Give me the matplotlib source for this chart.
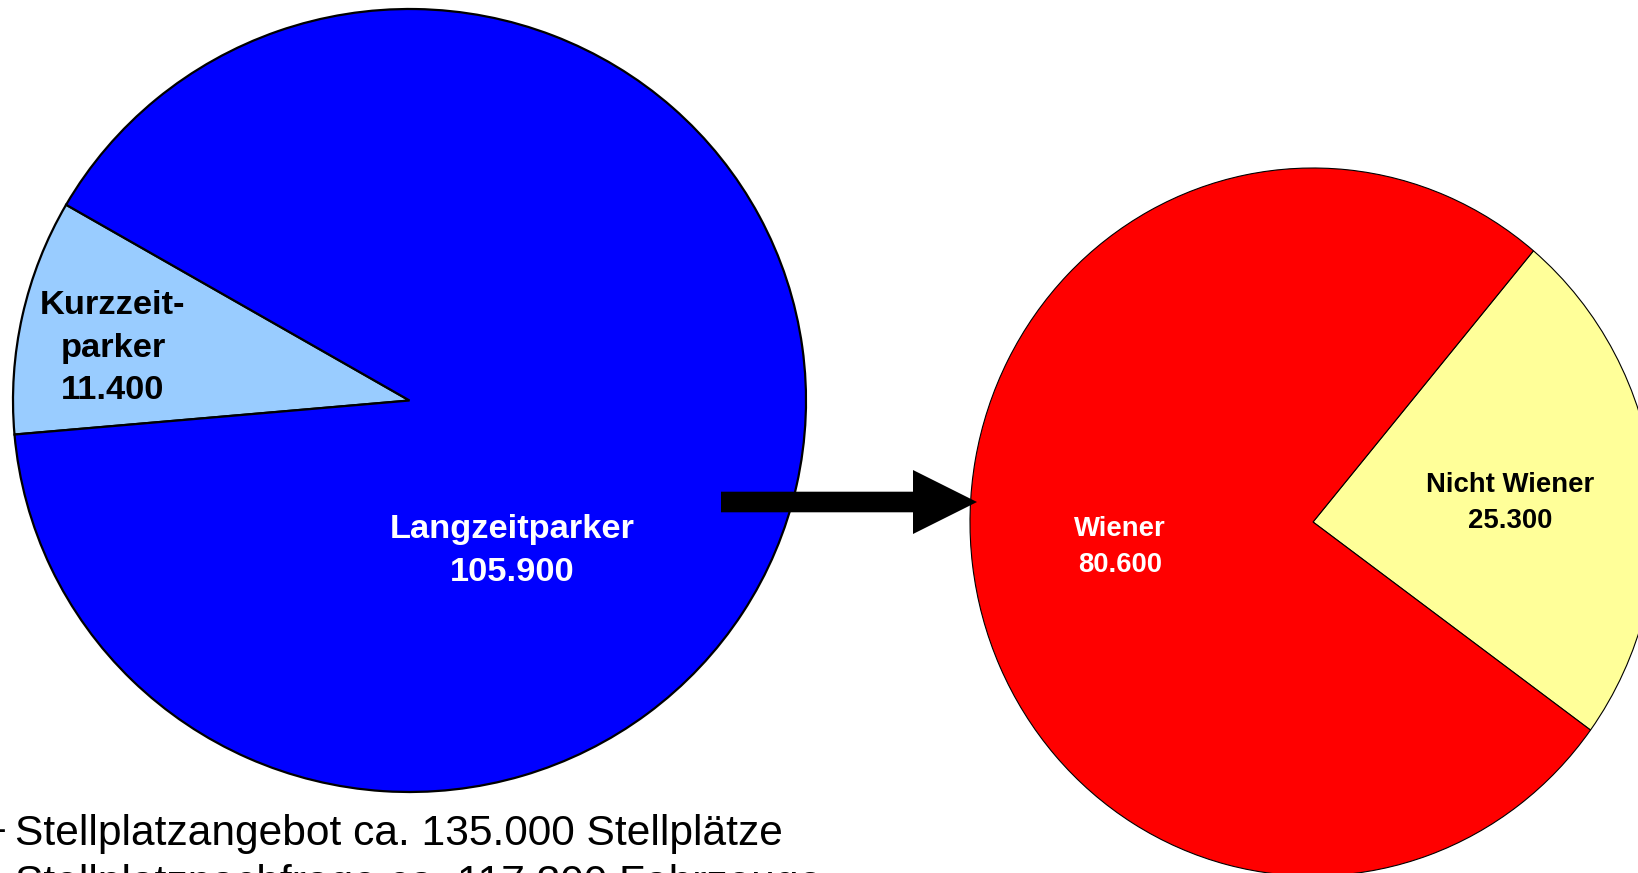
import matplotlib
matplotlib.use("Agg")
import matplotlib.pyplot as plt
from matplotlib.patches import FancyArrow

plt.rcParams['font.family'] = ['Liberation Sans', 'DejaVu Sans']

# ---- data ----
left_labels = ["Kurzzeit-\nparker", "Langzeitparker"]
left_values = [11400, 105900]
left_colors = ["#99CCFF", "#0000FF"]
left_text_colors = ["black", "white"]

right_labels = ["Nicht Wiener", "Wiener"]
right_values = [25300, 80600]
right_colors = ["#FFFF99", "#FF0000"]
right_text_colors = ["black", "white"]

notes = ["Stellplatzangebot ca. 135.000 Stellplätze",
         "Stellplatznachfrage ca. 117.300 Fahrzeuge"]

W, H = 1638, 873
fig = plt.figure(figsize=(W / 100, H / 100), dpi=100)
fig.patch.set_facecolor("white")


def fmt(v):
    return f"{v:,}".replace(",", ".")


def pie_axes(x0, y0, x1, y1):
    # pixel bbox (top-left origin) -> figure fraction
    return fig.add_axes([x0 / W, (H - y1) / H, (x1 - x0) / W, (y1 - y0) / H])


# left pie
axL = pie_axes(13, 9, 806, 792)
wL, _ = axL.pie(left_values, colors=left_colors, startangle=150, counterclock=True,
                radius=1, wedgeprops=dict(edgecolor="black", linewidth=1.6))
axL.set_aspect("auto")
axL.set_xlim(-1, 1)
axL.set_ylim(-1, 1)
axL.axis("off")
for w in wL:
    w.set_clip_on(False)

# right pie
axR = pie_axes(970, 168, 1656, 876)
wR, _ = axR.pie(right_values, colors=right_colors, startangle=-36, counterclock=True,
                radius=1, wedgeprops=dict(edgecolor="black", linewidth=0.8))
axR.set_aspect("auto")
axR.set_xlim(-1, 1)
axR.set_ylim(-1, 1)
axR.axis("off")
for w in wR:
    w.set_clip_on(False)

# overlay in pixel coordinates
ov = fig.add_axes([0, 0, 1, 1])
ov.set_xlim(0, W)
ov.set_ylim(H, 0)
ov.axis("off")
ov.patch.set_alpha(0)

left_pos = [(113, 348), (512, 551)]
for lab, val, col, (x, y) in zip(left_labels, left_values, left_text_colors, left_pos):
    ov.text(x, y, f"{lab}\n{fmt(val)}", ha="center", va="center", color=col,
            fontsize=24.8, fontweight="bold", linespacing=1.46, multialignment="center")

right_pos = [(1510, 503), (1120, 547)]
for lab, val, col, (x, y) in zip(right_labels, right_values, right_text_colors, right_pos):
    ov.text(x, y, f"{lab}\n{fmt(val)}", ha="center", va="center", color=col,
            fontsize=19.8, fontweight="bold", linespacing=1.55, multialignment="center")

# arrow
ov.add_patch(FancyArrow(721, 502, 256, 0, width=20.6, head_width=64, head_length=64,
                        length_includes_head=True, facecolor="black", edgecolor="none"))

# notes
ov.text(5, 830, "–", ha="right", va="center", fontsize=31, color="black")
for i, t in enumerate(notes):
    ov.text(15, 845 + i * 49.5, t, ha="left", va="baseline", fontsize=30.6, color="black")

fig.savefig("out.png", dpi=100, facecolor="white")
